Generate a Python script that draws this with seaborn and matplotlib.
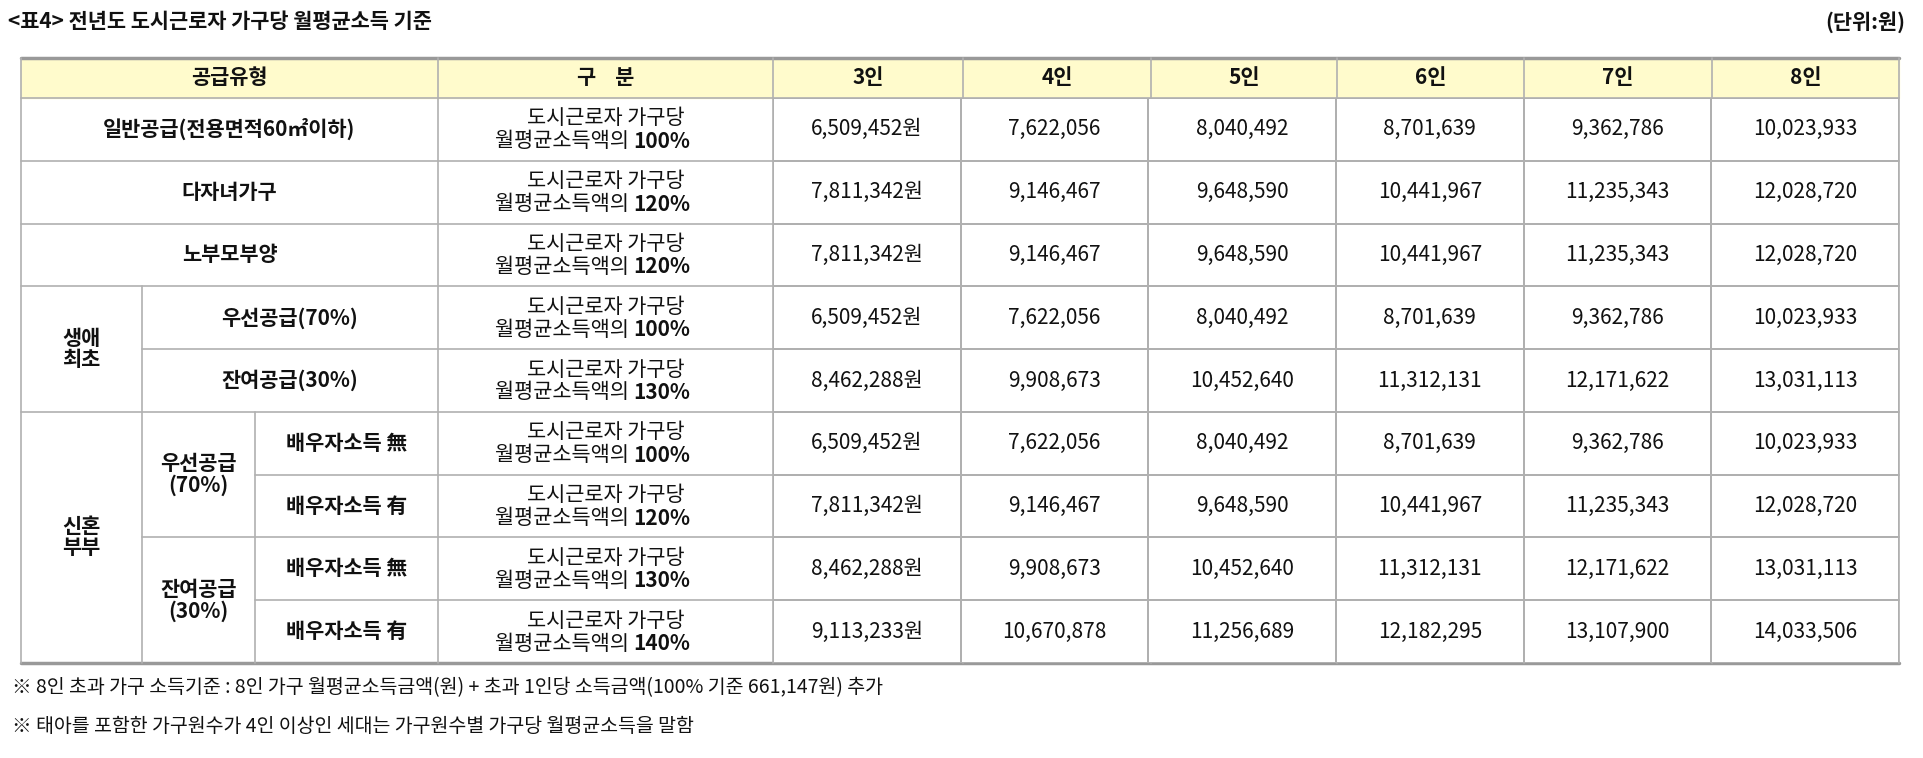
import numpy as np
import matplotlib
matplotlib.use("Agg")
import matplotlib.pyplot as plt
from matplotlib.colors import ListedColormap
import seaborn as sns

FAM = ["Noto Sans CJK KR", "Noto Sans CJK JP", "Noto Sans CJK SC", "Noto Sans CJK TC", "DejaVu Sans"]
sns.set_theme(style="white")
plt.rcParams["font.family"] = "sans-serif"
plt.rcParams["font.sans-serif"] = FAM

title = "<표4> 전년도 도시근로자 가구당 월평균소득 기준"
unit = "(단위:원)"
col_headers = ["3인", "4인", "5인", "6인", "7인", "8인"]
percents = ["100%", "120%", "120%", "100%", "130%", "100%", "120%", "130%", "140%"]
v3 = [6509452, 7811342, 7811342, 6509452, 8462288, 6509452, 7811342, 8462288, 9113233]
v4 = [7622056, 9146467, 9146467, 7622056, 9908673, 7622056, 9146467, 9908673, 10670878]
v5 = [8040492, 9648590, 9648590, 8040492, 10452640, 8040492, 9648590, 10452640, 11256689]
v6 = [8701639, 10441967, 10441967, 8701639, 11312131, 8701639, 10441967, 11312131, 12182295]
v7 = [9362786, 11235343, 11235343, 9362786, 12171622, 9362786, 11235343, 12171622, 13107900]
v8 = [10023933, 12028720, 12028720, 10023933, 13031113, 10023933, 12028720, 13031113, 14033506]
notes = ["※ 8인 초과 가구 소득기준 : 8인 가구 월평균소득금액(원) + 초과 1인당 소득금액(100% 기준 661,147원) 추가",
         "※ 태아를 포함한 가구원수가 4인 이상인 세대는 가구원수별 가구당 월평균소득을 말함"]

W, H = 1924, 758
fig = plt.figure(figsize=(W/100, H/100), dpi=100)
ax = fig.add_axes([0, 0, 1, 1])
ax.set_xlim(0, W); ax.set_ylim(H, 0); ax.axis("off")

xs = [21, 438, 773, 963, 1151, 1337, 1524, 1712, 1899]
top, hb, bot = 58, 98, 663
rh = (bot - hb) / 9
ry = [hb + i*rh for i in range(10)]
lc = "#b0b0b0"
fs = 15

ax.add_patch(plt.Rectangle((xs[0], top), xs[-1]-xs[0], hb-top, color="#FFFBCC", zorder=0))

vals = np.array([v3, v4, v5, v6, v7, v8]).T
labels = np.array([[f"{v:,}" + ("원" if j == 0 else "") for j, v in enumerate(r)] for r in vals])
hax = fig.add_axes([xs[2]/W, 1-bot/H, (xs[-1]-xs[2])/W, (bot-hb)/H])
sns.heatmap(vals, ax=hax, cmap=ListedColormap(["white"]), cbar=False, annot=labels, fmt="",
            annot_kws={"fontsize": fs, "color": "#111", "family": FAM}, linewidths=1.2, linecolor=lc,
            xticklabels=False, yticklabels=False)
hax.axis("off")

def L(x0, y0, x1, y1, lw=1.2, c=lc):
    ax.plot([x0, x1], [y0, y1], color=c, lw=lw, zorder=3)

L(xs[0], top, xs[-1], top, 2.5, "#999")
L(xs[0], bot, xs[-1], bot, 2.5, "#999")
L(xs[0], hb, xs[-1], hb)
for x in xs:
    L(x, top, x, bot)
for i in range(1, 9):
    y = ry[i]
    if i in (3, 5):
        L(xs[0], y, xs[-1], y)
    elif i in (4, 7):
        L(142, y, xs[-1], y)
    elif i in (6, 8):
        L(255, y, xs[-1], y)
    else:
        L(xs[0], y, xs[-1], y)
L(142, ry[3], 142, bot); L(255, ry[5], 255, bot)

def T(x, y, s, bold=False, size=fs, ha="center", ls=1.0):
    ax.text(x, y, s, ha=ha, va="center", fontsize=size, fontweight="bold" if bold else "normal",
            color="#111", linespacing=ls, zorder=4, family=FAM)

T((xs[0]+xs[1])/2, (top+hb)/2, "공급유형", True)
T((xs[1]+xs[2])/2, (top+hb)/2, "구    분", True)
for j, h in enumerate(col_headers):
    T((xs[j+2]+xs[j+3])/2, (top+hb)/2, h, True)

mid = lambda i: (ry[i]+ry[i+1])/2
T((xs[0]+xs[1])/2, mid(0), "일반공급(전용면적60㎡이하)", True)
T((xs[0]+xs[1])/2, mid(1), "다자녀가구", True)
T((xs[0]+xs[1])/2, mid(2), "노부모부양", True)
T((xs[0]+142)/2, ry[4], "생애\n최초", True)
T((142+xs[1])/2, mid(3), "우선공급(70%)", True)
T((142+xs[1])/2, mid(4), "잔여공급(30%)", True)
T((xs[0]+142)/2, ry[7], "신혼\n부부", True)
T((142+255)/2, ry[6], "우선공급\n(70%)", True)
T((142+255)/2, ry[8], "잔여공급\n(30%)", True)
for i, s in zip(range(5, 9), ["無", "有", "無", "有"]):
    T((255+xs[1])/2, mid(i), "배우자소득 " + s, True)
for i in range(9):
    cx = (xs[1]+xs[2])/2
    T(cx, mid(i)-11, "도시근로자 가구당")
    ax.text(cx+28, mid(i)+12, "월평균소득액의 ", ha="right", va="center", fontsize=fs, color="#111", zorder=4, family=FAM)
    ax.text(cx+28, mid(i)+12, percents[i], ha="left", va="center", fontsize=fs, fontweight="bold", color="#111", zorder=4, family=FAM)

T(8, 22, title, True, 15, ha="left")
T(1905, 22, unit, True, 15, ha="right")
T(12, 688, notes[0], False, 14, ha="left")
T(12, 726, notes[1], False, 14, ha="left")

fig.savefig("out.png", dpi=100)
